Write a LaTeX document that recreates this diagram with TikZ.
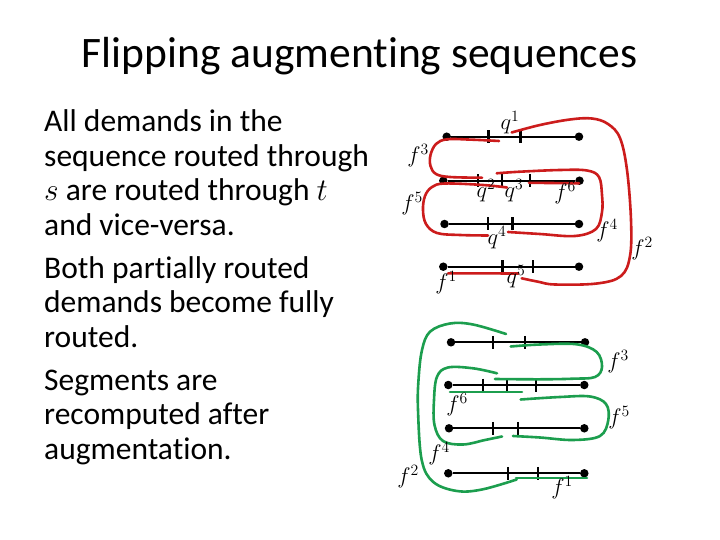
\RequirePackage{fix-cm}
\documentclass[tikz,border=0pt]{standalone}
\usepackage{fontspec}
\setmainfont{Carlito}[Ligatures=NoCommon]
\begin{document}
\begin{tikzpicture}[x=1pt,y=-1pt,
  dotn/.style={circle,fill=black,inner sep=0pt,minimum size=8.5pt},
  seg/.style={line width=2pt,black},
  tick/.style={line width=2.2pt,black},
  rc/.style={line width=2.6pt,draw=myred,line cap=round},
  gc/.style={line width=2.6pt,draw=mygreen,line cap=round},
  lab/.style={inner sep=0pt,font=\fontsize{22.5}{26}\selectfont},
  body/.style={anchor=base west,inner sep=0pt,font=\fontsize{31.5}{36}\selectfont},
]
\definecolor{myred}{RGB}{204,28,28}
\definecolor{mygreen}{RGB}{28,158,78}
\useasboundingbox[fill=white] (0,0) rectangle (720,540);

% title
\node[anchor=base,inner sep=0pt,font=\fontsize{43.5}{50}\selectfont] (title) at (359.5,68) {Flipping augmenting sequences};

% body text
\node[body] (t1) at (44,132) {All demands in the};
\node[body] (t2) at (44,166.5) {sequence routed through};
\node[body] (t3) at (44,201) {$s$ are routed through $t$};
\node[body] (t4) at (44,235.5) {and vice-versa.};
\node[body] (t5) at (44,278) {Both partially routed};
\node[body] (t6) at (44,312.5) {demands become fully};
\node[body] (t7) at (44,347) {routed.};
\node[body] (t8) at (44,390) {Segments are};
\node[body] (t9) at (44,424.5) {recomputed after};
\node[body] (t10) at (44,459) {augmentation.};

% ===== red (top) diagram =====
\node[dotn] (a1l) at (446.7,136.7) {};
\node[dotn] (a1r) at (579,136.7) {};
\node[dotn] (a2l) at (443.3,180.7) {};
\node[dotn] (a2r) at (579.5,180.7) {};
\node[dotn] (a3l) at (444.5,224) {};
\node[dotn] (a3r) at (579,224) {};
\node[dotn] (a4l) at (443.3,266.7) {};
\node[dotn] (a4r) at (579,266.7) {};
\draw[seg] (a1l) -- (a1r);
\draw[seg] (a2l) -- (a2r);
\draw[seg] (a3l) -- (a3r);
\draw[seg] (a4l) -- (a4r);
\foreach \x in {488.5,520.5} \draw[tick] (\x,130.2) -- (\x,143.2);
\foreach \x in {478,502.3,530} \draw[tick] (\x,174.2) -- (\x,187.2);
\foreach \x in {488.3,512.5} \draw[tick] (\x,217.5) -- (\x,230.5);
\foreach \x in {502.5,532.7} \draw[tick] (\x,260.2) -- (\x,273.2);

% red curves
\draw[rc] plot[smooth,tension=0.6] coordinates {(499,141) (470,139.6) (447,139.3) (436,144) (430.5,155) (430.5,166) (436,174) (450,177) (482,177.7)};
\draw[rc] plot[smooth,tension=0.6] coordinates {(511.7,132.5) (540,125) (570,119.5) (592,118.5) (608,124) (620,138) (627,170) (631,220) (630,256) (621,276) (597,283.5) (555,284.5) (538,281.7) (521.7,278.3)};
\draw[rc] plot[smooth,tension=0.6] coordinates {(496.7,173.3) (520,171.7) (560,170) (587,170.5) (599,177) (602,195) (602,212) (596,229) (575,236) (540,234) (508,232)};
\draw[rc] (529,182.8) -- (579,183.3);
\draw[rc] plot[smooth,tension=0.6] coordinates {(507,187.5) (483,185) (445,183.5) (432,187) (425,196) (423,210) (426,224) (437,233) (460,235) (488,235.5)};
\draw[rc] (448,273.3) -- (518.3,273.5);

% red labels
\node[lab] (rq1) at (510,123) {$q^1$};
\node[lab] (rf3) at (418,156) {$f^3$};
\node[lab] (rq2) at (486,191) {$q^2$};
\node[lab] (rq3) at (514,191) {$q^3$};
\node[lab] (rf6) at (565,193) {$f^6$};
\node[lab] (rf5) at (412,204) {$f^5$};
\node[lab] (rq4) at (497,238) {$q^4$};
\node[lab] (rf4) at (607,231) {$f^4$};
\node[lab] (rf2) at (642,249) {$f^2$};
\node[lab] (rf1) at (446,283) {$f^1$};
\node[lab] (rq5) at (516,277) {$q^5$};

% ===== green (bottom) diagram =====
\node[dotn] (b1l) at (451,342.3) {};
\node[dotn] (b1r) at (585,342.3) {};
\node[dotn] (b2l) at (448.3,385) {};
\node[dotn] (b2r) at (584.3,385) {};
\node[dotn] (b3l) at (449,428.3) {};
\node[dotn] (b3r) at (584.3,428.3) {};
\node[dotn] (b4l) at (448.3,473.3) {};
\node[dotn] (b4r) at (584.3,473.3) {};
\draw[seg] (b1l) -- (b1r);
\draw[seg] (b2l) -- (b2r);
\draw[seg] (b3l) -- (b3r);
\draw[seg] (b4l) -- (b4r);
\foreach \x in {493.3,525} \draw[tick] (\x,335.8) -- (\x,348.8);
\foreach \x in {483.3,507.3,535.7} \draw[tick] (\x,378.5) -- (\x,391.5);
\foreach \x in {493.3,517.7} \draw[tick] (\x,421.8) -- (\x,434.8);
\foreach \x in {507.7,537.7} \draw[tick] (\x,466.8) -- (\x,479.8);

% green curves
\draw[gc] plot[smooth,tension=0.6] coordinates {(506,334) (473,324.5) (450,323.5) (430,331.7) (422,350) (418.5,380) (418,410) (421.7,460) (433.3,482) (457,491) (482,489.5) (516.7,479.5)};
\draw[gc] (516,478) -- (587,478);
\draw[gc] plot[smooth,tension=0.6] coordinates {(510.7,346.5) (540,344.5) (576.7,344.3) (596.7,352) (602,367) (595,377) (573,378.7) (540,379.3) (495,379)};
\draw[gc] plot[smooth,tension=0.6] coordinates {(497,373.3) (473,368.3) (448,367.5) (437,376.7) (434,400) (434.5,425) (443,441) (463,444.5) (485,440) (502,436.5)};
\draw[gc] (450,392) -- (522,392);
\draw[gc] plot[smooth,tension=0.6] coordinates {(520.7,399.5) (560,397) (590,396.5) (606,404) (608.3,420) (600,436) (573,440) (540,437.5) (513,436)};

% green labels
\node[lab] (gf3) at (618,362) {$f^3$};
\node[lab] (gf5) at (619,418) {$f^5$};
\node[lab] (gf6) at (457,405) {$f^6$};
\node[lab] (gf4) at (439,454) {$f^4$};
\node[lab] (gf2) at (408,477) {$f^2$};
\node[lab] (gf1) at (562,488) {$f^1$};
\end{tikzpicture}
\end{document}
